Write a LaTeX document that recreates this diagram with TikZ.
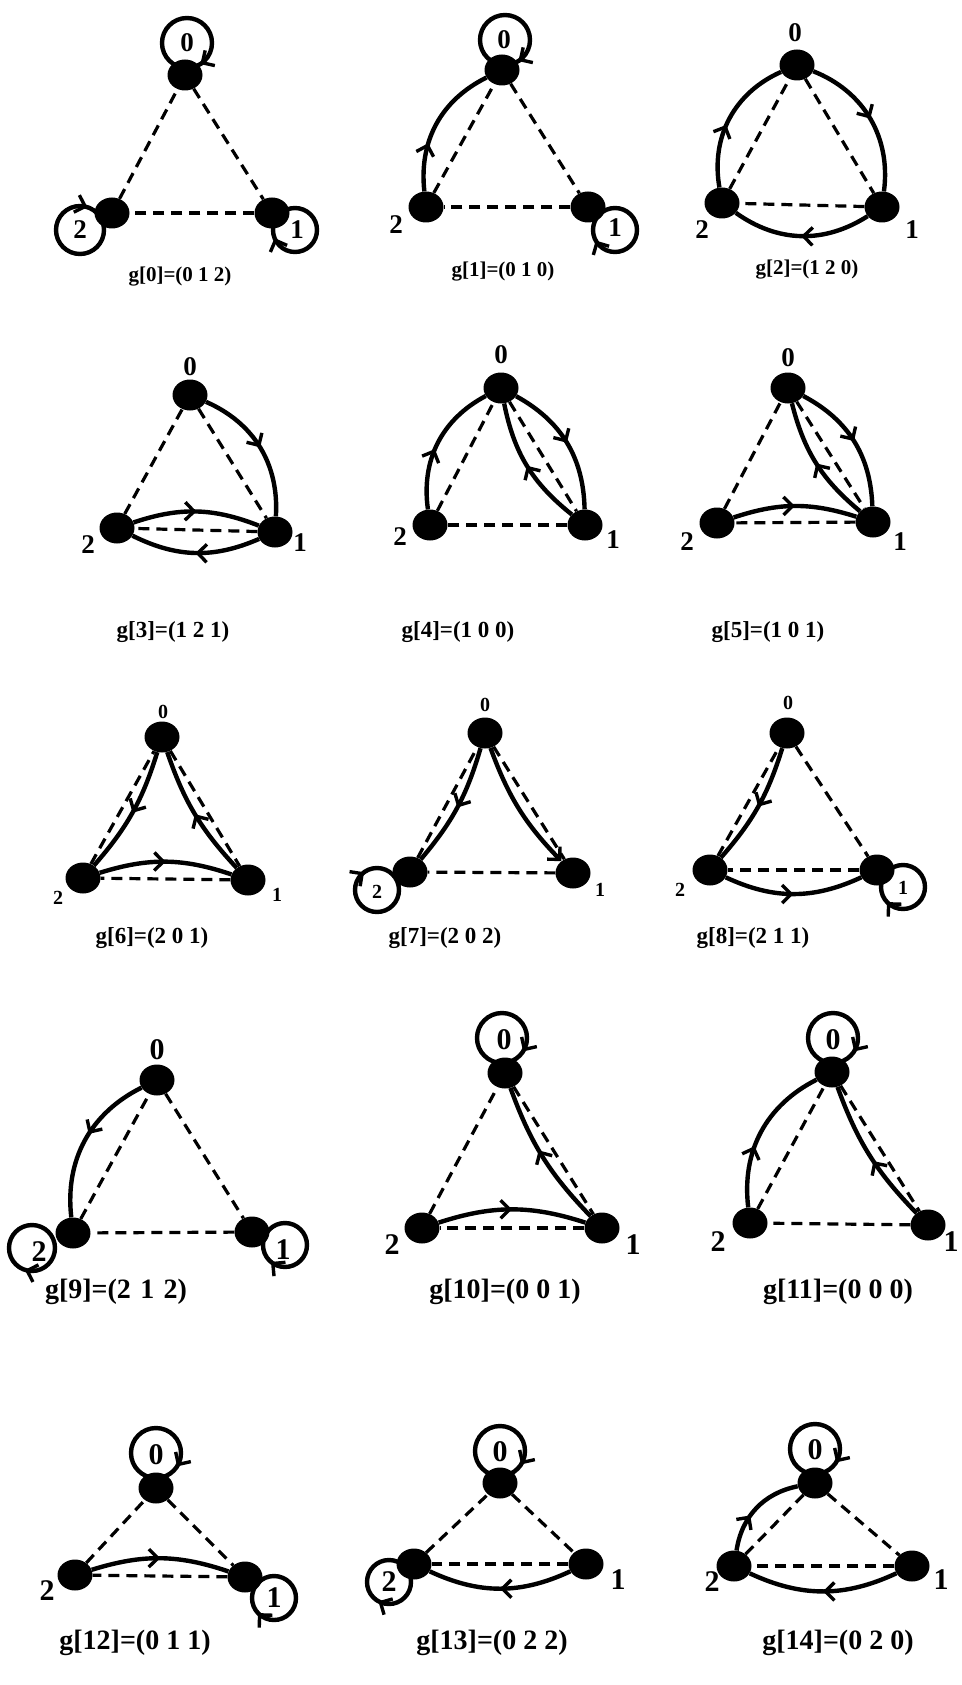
\documentclass[tikz,border=0pt]{standalone}
\usepackage{fontspec}
\setmainfont{Liberation Serif}
\usetikzlibrary{arrows.meta,decorations.markings,shapes.geometric,calc}
\tikzset{
  mytip/.tip={Straight Barb[length=9pt,width=18pt,line width=3.4pt]},
  vtx/.style={ellipse, fill=black, minimum width=35pt, minimum height=31pt, inner sep=0pt},
  dsh/.style={dash pattern=on 11pt off 7pt, line width=3.2pt},
  edg/.style={line width=4.4pt},
  midarr/.style={edg, postaction={decorate}, decoration={markings, mark=at position #1 with {\arrow{mytip}}}},
  midarr/.default=0.5,
  lp/.style={edg, postaction={decorate}, decoration={markings, mark=at position #1 with {\arrowreversed{mytip}}}},
  numA/.style={font=\fontsize{27}{27}\selectfont\bfseries, inner sep=0pt},
  numB/.style={font=\fontsize{20}{20}\selectfont\bfseries, inner sep=0pt},
  numC/.style={font=\fontsize{30}{30}\selectfont\bfseries, inner sep=0pt},
  labA/.style={font=\fontsize{21}{21}\selectfont\bfseries, inner sep=0pt},
  labB/.style={font=\fontsize{23}{23}\selectfont\bfseries, inner sep=0pt},
  labC/.style={font=\fontsize{28}{28}\selectfont\bfseries, inner sep=0pt},
}
\begin{document}
\begin{tikzpicture}[x=1pt,y=1pt]
\useasboundingbox (0,0) rectangle (961,-1685);
\fill[white] (0,0) rectangle (961,-1685);

% ---------- g0
\node[vtx] (a0) at (185,-75) {};
\node[vtx] (a1) at (272,-213) {};
\node[vtx] (a2) at (112,-213) {};
\draw[dsh] (a0) -- (a1); \draw[dsh] (a1) -- (a2); \draw[dsh] (a2) -- (a0);
\draw[lp=0.84] ($(a0)+(2,32)$) circle[radius=25];
\draw[lp=0.56] ($(a1)+(23,-17)$) circle[radius=22];
\draw[lp=0.2] ($(a2)+(-32,-17)$) circle[radius=24];
\node[numA] (a0t) at (187,-43) {0};
\node[numA] (a1t) at (297,-230) {1};
\node[numA] (a2t) at (80,-230) {2};
\node[labA] (aL) at (180,-277) {g[0]=(0 1 2)};

% ---------- g1
\node[vtx] (b0) at (502,-70) {};
\node[vtx] (b1) at (588,-207) {};
\node[vtx] (b2) at (426,-207) {};
\draw[dsh] (b0) -- (b1); \draw[dsh] (b1) -- (b2); \draw[dsh] (b2) -- (b0);
\draw[lp=0.84] ($(b0)+(3,30)$) circle[radius=25];
\draw[lp=0.58] ($(b1)+(27,-23)$) circle[radius=22];
\draw[midarr=0.35] (b2) to[bend left=35] (b0);
\node[numA] (b0t) at (504,-40) {0};
\node[numA] (b1t) at (615,-228) {1};
\node[numA] (b2t) at (396,-225) {2};
\node[labA] (bL) at (503,-272) {g[1]=(0 1 0)};

% ---------- g2
\node[vtx] (c0) at (797,-65) {};
\node[vtx] (c1) at (882,-207) {};
\node[vtx] (c2) at (722,-203) {};
\draw[dsh] (c0) -- (c1); \draw[dsh] (c1) -- (c2); \draw[dsh] (c2) -- (c0);
\draw[midarr] (c0) to[bend left=38] (c1);
\draw[midarr] (c1) to[bend left=34] (c2);
\draw[midarr=0.45] (c2) to[bend left=38] (c0);
\node[numA] (c0t) at (795,-33) {0};
\node[numA] (c1t) at (912,-230) {1};
\node[numA] (c2t) at (702,-230) {2};
\node[labA] (cL) at (807,-270) {g[2]=(1 2 0)};

% ---------- g3
\node[vtx] (d0) at (190,-395) {};
\node[vtx] (d1) at (275,-532) {};
\node[vtx] (d2) at (117,-528) {};
\draw[dsh] (d0) -- (d1); \draw[dsh] (d1) -- (d2); \draw[dsh] (d2) -- (d0);
\draw[midarr] (d0) to[bend left=35] (d1);
\draw[midarr] (d2) to[bend left=20] (d1);
\draw[midarr] (d1) to[bend left=25] (d2);
\node[numA] (d0t) at (190,-367) {0};
\node[numA] (d1t) at (300,-543) {1};
\node[numA] (d2t) at (88,-545) {2};
\node[labB] (dL) at (173,-632) {g[3]=(1 2 1)};

% ---------- g4
\node[vtx] (e0) at (501,-388) {};
\node[vtx] (e1) at (585,-525) {};
\node[vtx] (e2) at (430,-525) {};
\draw[dsh] (e0) -- (e1); \draw[dsh] (e1) -- (e2); \draw[dsh] (e2) -- (e0);
\draw[midarr=0.45] (e2) to[bend left=35] (e0);
\draw[midarr] (e0) to[bend left=30] (e1);
\draw[midarr] (e1) to[bend left=20] (e0);
\node[numA] (e0t) at (501,-355) {0};
\node[numA] (e1t) at (613,-540) {1};
\node[numA] (e2t) at (400,-537) {2};
\node[labB] (eL) at (458,-632) {g[4]=(1 0 0)};

% ---------- g5
\node[vtx] (f0) at (788,-388) {};
\node[vtx] (f1) at (873,-522) {};
\node[vtx] (f2) at (717,-523) {};
\draw[dsh] (f0) -- (f1); \draw[dsh] (f1) -- (f2); \draw[dsh] (f2) -- (f0);
\draw[midarr] (f0) to[bend left=30] (f1);
\draw[midarr] (f1) to[bend left=18] (f0);
\draw[midarr] (f2) to[bend left=18] (f1);
\node[numA] (f0t) at (788,-358) {0};
\node[numA] (f1t) at (900,-542) {1};
\node[numA] (f2t) at (687,-542) {2};
\node[labB] (fL) at (768,-632) {g[5]=(1 0 1)};

% ---------- g6
\node[vtx] (h0) at (162,-737) {};
\node[vtx] (h1) at (248,-880) {};
\node[vtx] (h2) at (83,-878) {};
\draw[dsh] (h0) -- (h1); \draw[dsh] (h1) -- (h2); \draw[dsh] (h2) -- (h0);
\draw[midarr] (h0) to[bend left=12] (h2);
\draw[midarr] (h1) to[bend left=12] (h0);
\draw[midarr] (h2) to[bend left=18] (h1);
\node[numB] (h0t) at (163,-712) {0};
\node[numB] (h1t) at (277,-895) {1};
\node[numB] (h2t) at (58,-898) {2};
\node[labB] (hL) at (152,-938) {g[6]=(2 0 1)};

% ---------- g7
\node[vtx] (i0) at (485,-733) {};
\node[vtx] (i1) at (573,-873) {};
\node[vtx] (i2) at (410,-872) {};
\draw[dsh] (i0) -- (i1); \draw[dsh] (i1) -- (i2); \draw[dsh] (i2) -- (i0);
\draw[midarr] (i0) to[bend left=12] (i2);
\draw[edg,-{mytip}] (i0) to[bend right=12] (i1);
\draw[lp=0.35] ($(i2)+(-33,-18)$) circle[radius=22];
\node[numB] (i0t) at (485,-705) {0};
\node[numB] (i1t) at (600,-890) {1};
\node[numB] (i2t) at (377,-892) {2};
\node[labB] (iL) at (445,-938) {g[7]=(2 0 2)};

% ---------- g8
\node[vtx] (j0) at (787,-733) {};
\node[vtx] (j1) at (877,-870) {};
\node[vtx] (j2) at (710,-870) {};
\draw[dsh] (j0) -- (j1); \draw[dsh] (j1) -- (j2); \draw[dsh] (j2) -- (j0);
\draw[midarr] (j0) to[bend left=12] (j2);
\draw[midarr] (j2) to[bend right=25] (j1);
\draw[lp=0.62] ($(j1)+(26,-17)$) circle[radius=22];
\node[numB] (j0t) at (788,-703) {0};
\node[numB] (j1t) at (903,-888) {1};
\node[numB] (j2t) at (680,-890) {2};
\node[labB] (jL) at (753,-938) {g[8]=(2 1 1)};

% ---------- g9
\node[vtx] (k0) at (157,-1080) {};
\node[vtx] (k1) at (252,-1232) {};
\node[vtx] (k2) at (73,-1233) {};
\draw[dsh] (k0) -- (k1); \draw[dsh] (k1) -- (k2); \draw[dsh] (k2) -- (k0);
\draw[midarr=0.45] (k0) to[bend right=35] (k2);
\draw[lp=0.7] ($(k2)+(-41,-15)$) circle[radius=23];
\draw[lp=0.64] ($(k1)+(33,-13)$) circle[radius=22];
\node[numC] (k0t) at (157,-1050) {0};
\node[numC] (k1t) at (283,-1250) {1};
\node[numC] (k2t) at (39,-1252) {2};
\node[labC] (kL) at (116,-1292) {g[9]=(2\,\,1\,\,2)};

% ---------- g10
\node[vtx] (l0) at (505,-1073) {};
\node[vtx] (l1) at (602,-1228) {};
\node[vtx] (l2) at (422,-1228) {};
\draw[dsh] (l0) -- (l1); \draw[dsh] (l1) -- (l2); \draw[dsh] (l2) -- (l0);
\draw[lp=0.91] ($(l0)+(-3,35)$) circle[radius=25];
\draw[midarr=0.55] (l1) to[bend left=12] (l0);
\draw[midarr] (l2) to[bend left=18] (l1);
\node[numC] (l0t) at (504,-1040) {0};
\node[numC] (l1t) at (633,-1245) {1};
\node[numC] (l2t) at (392,-1245) {2};
\node[labC] (lL) at (505,-1292) {g[10]=(0 0 1)};

% ---------- g11
\node[vtx] (m0) at (832,-1072) {};
\node[vtx] (m1) at (928,-1225) {};
\node[vtx] (m2) at (750,-1223) {};
\draw[dsh] (m0) -- (m1); \draw[dsh] (m1) -- (m2); \draw[dsh] (m2) -- (m0);
\draw[lp=0.91] ($(m0)+(1,34)$) circle[radius=25];
\draw[midarr=0.4] (m2) to[bend left=35] (m0);
\draw[midarr=0.45] (m1) to[bend left=12] (m0);
\node[numC] (m0t) at (833,-1040) {0};
\node[numC] (m1t) at (951,-1242) {1};
\node[numC] (m2t) at (718,-1242) {2};
\node[labC] (mL) at (838,-1292) {g[11]=(0 0 0)};

% ---------- g12
\node[vtx] (n0) at (156,-1488) {};
\node[vtx] (n1) at (245,-1577) {};
\node[vtx] (n2) at (75,-1575) {};
\draw[dsh] (n0) -- (n1); \draw[dsh] (n1) -- (n2); \draw[dsh] (n2) -- (n0);
\draw[lp=0.91] ($(n0)+(0,35)$) circle[radius=25];
\draw[lp=0.62] ($(n1)+(29,-21)$) circle[radius=22];
\draw[midarr] (n2) to[bend left=18] (n1);
\node[numC] (n0t) at (156,-1455) {0};
\node[numC] (n1t) at (274,-1598) {1};
\node[numC] (n2t) at (47,-1591) {2};
\node[labC] (nL) at (135,-1643) {g[12]=(0 1 1)};

% ---------- g13
\node[vtx] (o0) at (500,-1483) {};
\node[vtx] (o1) at (586,-1564) {};
\node[vtx] (o2) at (414,-1564) {};
\draw[dsh] (o0) -- (o1); \draw[dsh] (o1) -- (o2); \draw[dsh] (o2) -- (o0);
\draw[lp=0.91] ($(o0)+(0,32)$) circle[radius=25];
\draw[lp=0.67] ($(o2)+(-25,-18)$) circle[radius=22];
\draw[midarr] (o1) to[bend left=25] (o2);
\node[numC] (o0t) at (500,-1452) {0};
\node[numC] (o1t) at (618,-1580) {1};
\node[numC] (o2t) at (389,-1582) {2};
\node[labC] (oL) at (492,-1643) {g[13]=(0 2 2)};

% ---------- g14
\node[vtx] (p0) at (815,-1483) {};
\node[vtx] (p1) at (912,-1566) {};
\node[vtx] (p2) at (734,-1566) {};
\draw[dsh] (p0) -- (p1); \draw[dsh] (p1) -- (p2); \draw[dsh] (p2) -- (p0);
\draw[lp=0.91] ($(p0)+(0,34)$) circle[radius=25];
\draw[midarr=0.4] (p2) to[bend left=35] (p0);
\draw[midarr] (p1) to[bend left=25] (p2);
\node[numC] (p0t) at (815,-1450) {0};
\node[numC] (p1t) at (941,-1580) {1};
\node[numC] (p2t) at (712,-1582) {2};
\node[labC] (pL) at (838,-1643) {g[14]=(0 2 0)};
\end{tikzpicture}
\end{document}
